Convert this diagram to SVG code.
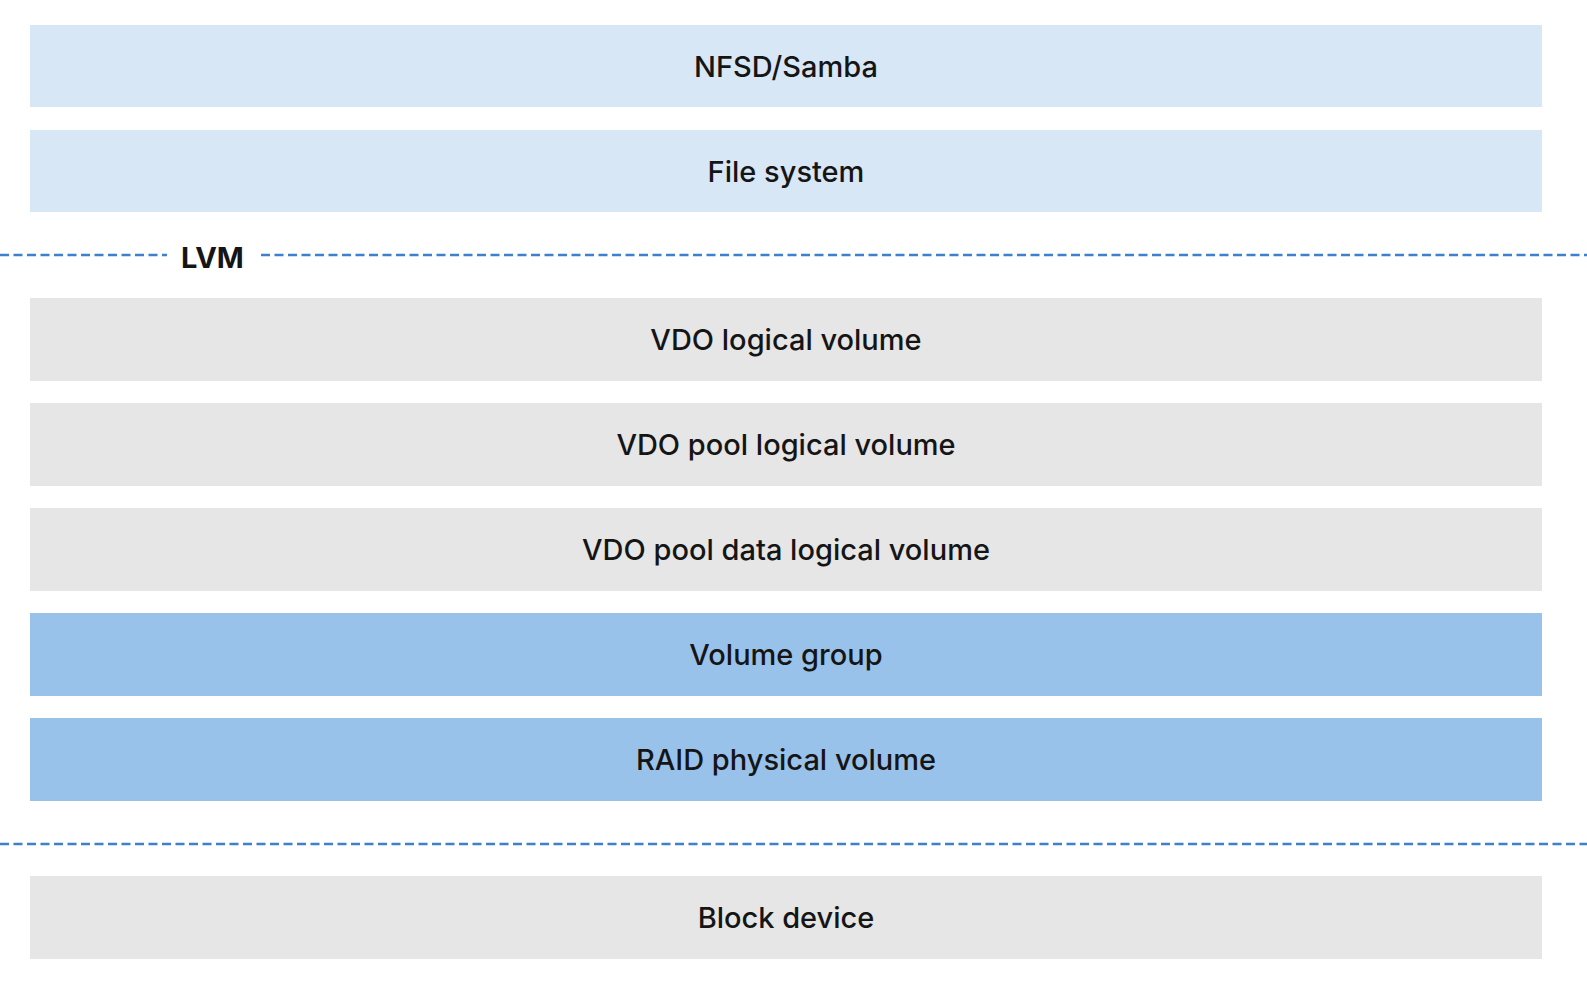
<svg xmlns="http://www.w3.org/2000/svg" width="1587" height="1005" viewBox="0 0 1587 1005">
<style>
.box{stroke:none}
.lb{fill:#d8e7f6}
.gr{fill:#e6e6e6}
.bl{fill:#99c2ea}
.t{font-family:Inter,"Open Sans","Liberation Sans",sans-serif;font-size:29px;font-weight:500;fill:#151515;text-anchor:middle;dominant-baseline:central}
.dash{stroke:#3f80cc;stroke-width:2.5;stroke-dasharray:9 4.5;fill:none}
.lvm{font-family:Inter,"Open Sans","Liberation Sans",sans-serif;font-size:29px;font-weight:bold;fill:#151515;dominant-baseline:central}
</style>
<rect width="1587" height="1005" fill="#ffffff"/>
<g id="nfsd"><rect class="box lb" x="30" y="25" width="1512" height="82"/><text class="t" x="786" y="66">NFSD/Samba</text></g>
<g id="filesystem"><rect class="box lb" x="30" y="130" width="1512" height="82"/><text class="t" x="786" y="171">File system</text></g>
<g id="lvm-label"><text class="lvm" x="181" y="257">LVM</text></g>
<g id="vdo-lv"><rect class="box gr" x="30" y="298" width="1512" height="83"/><text class="t" x="786" y="339">VDO logical volume</text></g>
<g id="vdo-pool-lv"><rect class="box gr" x="30" y="403" width="1512" height="83"/><text class="t" x="786" y="444">VDO pool logical volume</text></g>
<g id="vdo-pool-data-lv"><rect class="box gr" x="30" y="508" width="1512" height="83"/><text class="t" x="786" y="549">VDO pool data logical volume</text></g>
<g id="vg"><rect class="box bl" x="30" y="613" width="1512" height="83"/><text class="t" x="786" y="654">Volume group</text></g>
<g id="raid-pv"><rect class="box bl" x="30" y="718" width="1512" height="83"/><text class="t" x="786" y="759">RAID physical volume</text></g>
<g id="block"><rect class="box gr" x="30" y="876" width="1512" height="83"/><text class="t" x="786" y="917">Block device</text></g>
<g id="connectors">
<line class="dash" x1="0" y1="255" x2="167" y2="255"/>
<line class="dash" x1="261" y1="255" x2="1587" y2="255"/>
<line class="dash" x1="0" y1="844" x2="1587" y2="844"/>
</g>
</svg>
